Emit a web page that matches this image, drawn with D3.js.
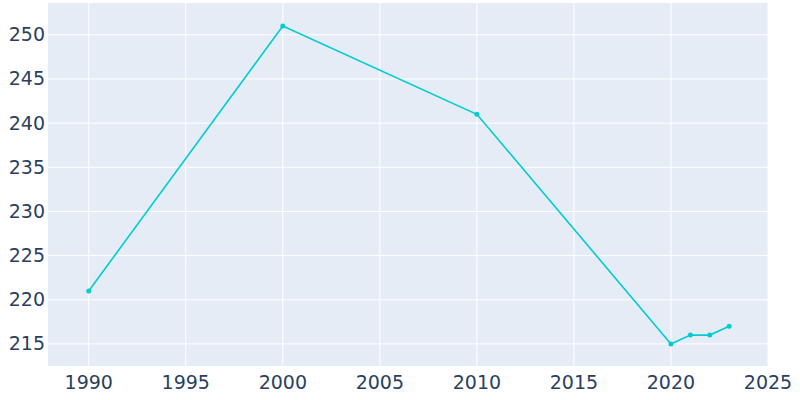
<!DOCTYPE html>
<html><head><meta charset="utf-8">
<script src="https://cdn.jsdelivr.net/npm/d3@7"></script>
<style>body{margin:0;background:#fff}</style></head>
<body><svg id="c" width="800" height="400"></svg>
<script>
const years = [1990, 2000, 2010, 2020, 2021, 2022, 2023];
const population = [221, 251, 241, 215, 216, 216, 217];
const xTicks = [1990, 1995, 2000, 2005, 2010, 2015, 2020, 2025];
const yTicks = [215, 220, 225, 230, 235, 240, 245, 250];

const L = 48, R = 768, T = 3, B = 366;
const svg = d3.select("#c");
const x = d3.scaleLinear().domain([1987.9, 2025]).range([L, R]);
const y = d3.scaleLinear().domain([212.5, 253.6]).range([B, T]);
svg.append("rect").attr("x", L).attr("y", T).attr("width", R - L).attr("height", B - T).attr("fill", "#e5ecf6");
svg.append("g").selectAll("line").data(xTicks).join("line")
  .attr("x1", d => x(d)).attr("x2", d => x(d)).attr("y1", T).attr("y2", B)
  .attr("stroke", "#fff").attr("stroke-width", 1);
svg.append("g").selectAll("line").data(yTicks).join("line")
  .attr("x1", L).attr("x2", R).attr("y1", d => y(d)).attr("y2", d => y(d))
  .attr("stroke", "#fff").attr("stroke-width", 1);
const font = "'DejaVu Sans', sans-serif";
svg.append("g").selectAll("text").data(xTicks).join("text")
  .attr("x", d => x(d)).attr("y", B + 23).attr("text-anchor", "middle")
  .attr("font-family", font).attr("font-size", 19).attr("fill", "#2a3f5f").text(d => d);
svg.append("g").selectAll("text").data(yTicks).join("text")
  .attr("x", L - 3).attr("y", d => y(d) + 6.5).attr("text-anchor", "end")
  .attr("font-family", font).attr("font-size", 19).attr("fill", "#2a3f5f").text(d => d);
const pts = years.map((d, i) => [d, population[i]]);
svg.append("path").datum(pts)
  .attr("d", d3.line().x(d => x(d[0])).y(d => y(d[1])))
  .attr("fill", "none").attr("stroke", "#00cdd0").attr("stroke-width", 1.6);
svg.append("g").selectAll("circle").data(pts).join("circle")
  .attr("cx", d => x(d[0])).attr("cy", d => y(d[1])).attr("r", 2.5).attr("fill", "#00cdd0");
</script></body></html>
